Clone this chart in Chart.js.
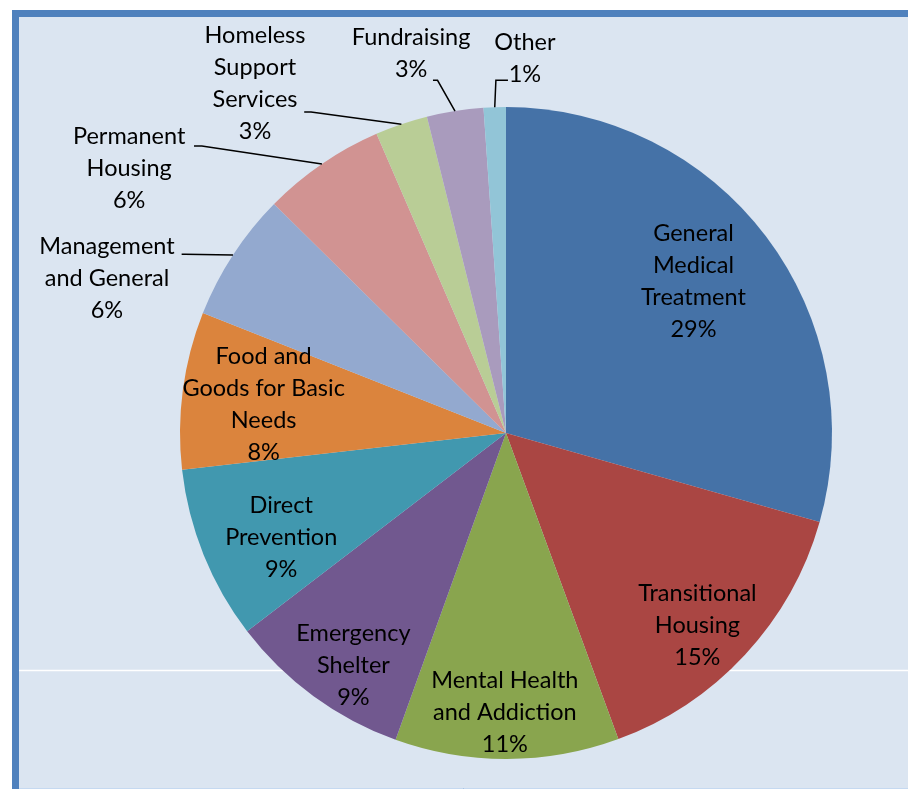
<!DOCTYPE html>
<html>
<head>
<meta charset="utf-8">
<script src="https://cdn.jsdelivr.net/npm/chart.js@4.4.1/dist/chart.umd.min.js"></script>
<style>
  html, body { margin: 0; padding: 0; background: #fff; }
  #wrap { width: 908px; height: 789px; }
</style>
</head>
<body>
<div id="wrap"><canvas id="pieChart" width="908" height="789"></canvas></div>
<script>
// categories (already broken into display lines)
const categories = [
  ["General", "Medical", "Treatment"],
  ["Transitional", "Housing"],
  ["Mental Health", "and Addiction"],
  ["Emergency", "Shelter"],
  ["Direct", "Prevention"],
  ["Food and", "Goods for Basic", "Needs"],
  ["Management", "and General"],
  ["Permanent", "Housing"],
  ["Homeless", "Support", "Services"],
  ["Fundraising"],
  ["Other"]
];

// share of spending, percent
const shares = [29.4, 15.0, 11.1, 9.1, 8.6, 7.8, 6.4, 6.1, 2.6, 2.8, 1.1];

const colors = [
  "#4572a7", "#aa4643", "#89a54e", "#71588f", "#4198af", "#db843d",
  "#93a9cf", "#d19392", "#b9cd96", "#a99bbd", "#92c5d7"
];

(() => {
  const FONT = '23.5px Lato, "Open Sans", sans-serif';
  const LINE = 32;

  // inside labels: distance from centre as fraction of radius, plus a px nudge
  const insideFrac = [0.74, 0.83, 0.85, 0.85, 0.76, 0.75];
  const insideNudge = [[-5, -6], [-7, 8], [-2, 2], [11, 9], [5, 12], [0, 4]];

  // outside labels, in radius units from the centre:
  // t = centre of first text line, s = leader start, e = elbow
  const outside = {
    6:  { t: [-1.224, -0.572], s: [-0.995, -0.548], e: [-0.985, -0.548] },
    7:  { t: [-1.156, -0.911], s: [-0.957, -0.880], e: [-0.933, -0.880] },
    8:  { t: [-0.770, -1.221], s: [-0.619, -0.985], e: [-0.598, -0.985] },
    9:  { t: [-0.291, -1.212], s: [-0.224, -1.082], e: [-0.210, -1.082] },
    10: { t: [ 0.058, -1.199], s: [ 0.006, -1.082], e: [-0.031, -1.082] }
  };

  const frame = {
    id: "frame",
    beforeDraw(chart) {
      const c = chart.ctx;
      c.save();
      c.fillStyle = "#ffffff";
      c.fillRect(0, 0, chart.width, chart.height);
      c.fillStyle = "#4f81bd";
      c.fillRect(12, 10, chart.width, chart.height);
      c.fillStyle = "#dbe5f1";
      c.fillRect(19, 17, chart.width, chart.height - 18);
      c.strokeStyle = "#ffffff";
      c.lineWidth = 1.5;
      c.beginPath();
      c.moveTo(19, 670.5);
      c.lineTo(chart.width, 670.5);
      c.stroke();
      c.strokeStyle = "#c5d9f1";
      c.lineWidth = 1;
      c.beginPath();
      c.moveTo(19, 788.5);
      c.lineTo(chart.width, 788.5);
      c.stroke();
      c.restore();
    }
  };

  const sliceLabels = {
    id: "sliceLabels",
    afterDatasetsDraw(chart) {
      const c = chart.ctx;
      const arcs = chart.getDatasetMeta(0).data;
      const vals = chart.data.datasets[0].data;
      c.save();
      c.font = FONT;
      c.fillStyle = "#000";
      c.textAlign = "center";
      c.textBaseline = "middle";
      arcs.forEach((arc, i) => {
        const { x, y, startAngle, endAngle, outerRadius: r } = arc.getProps(
          ["x", "y", "startAngle", "endAngle", "outerRadius"], true);
        const mid = (startAngle + endAngle) / 2;
        const lines = [...chart.data.labels[i], Math.round(vals[i]) + "%"];
        let tx, ty;
        if (outside[i]) {
          const o = outside[i];
          tx = x + o.t[0] * r;
          ty = y + o.t[1] * r;
          // leader line to the middle of the slice edge
          c.strokeStyle = "#000";
          c.lineWidth = 1.5;
          c.beginPath();
          c.moveTo(x + o.s[0] * r, y + o.s[1] * r);
          c.lineTo(x + o.e[0] * r, y + o.e[1] * r);
          c.lineTo(x + Math.cos(mid) * r, y + Math.sin(mid) * r);
          c.stroke();
        } else {
          const d = insideFrac[i] * r;
          tx = x + Math.cos(mid) * d + insideNudge[i][0];
          ty = y + Math.sin(mid) * d - (lines.length - 1) * LINE / 2 + insideNudge[i][1];
        }
        lines.forEach((ln, k) => c.fillText(ln, tx, ty + k * LINE));
      });
      c.restore();
    }
  };

  const init = () => {
    const ctx = document.getElementById("pieChart");
    new Chart(ctx, {
      type: "pie",
      data: {
        labels: categories,
        datasets: [{
          data: shares,
          backgroundColor: colors,
          borderWidth: 0
        }]
      },
      options: {
        responsive: false,
        animation: false,
        layout: { padding: { left: 180, top: 107, right: 76, bottom: 30 } },
        plugins: {
          legend: { display: false },
          tooltip: { enabled: false }
        }
      },
      plugins: [frame, sliceLabels]
    });
  };

  if (document.readyState === "loading") {
    document.addEventListener("DOMContentLoaded", init);
  } else {
    init();
  }
})();
</script>
</body>
</html>
